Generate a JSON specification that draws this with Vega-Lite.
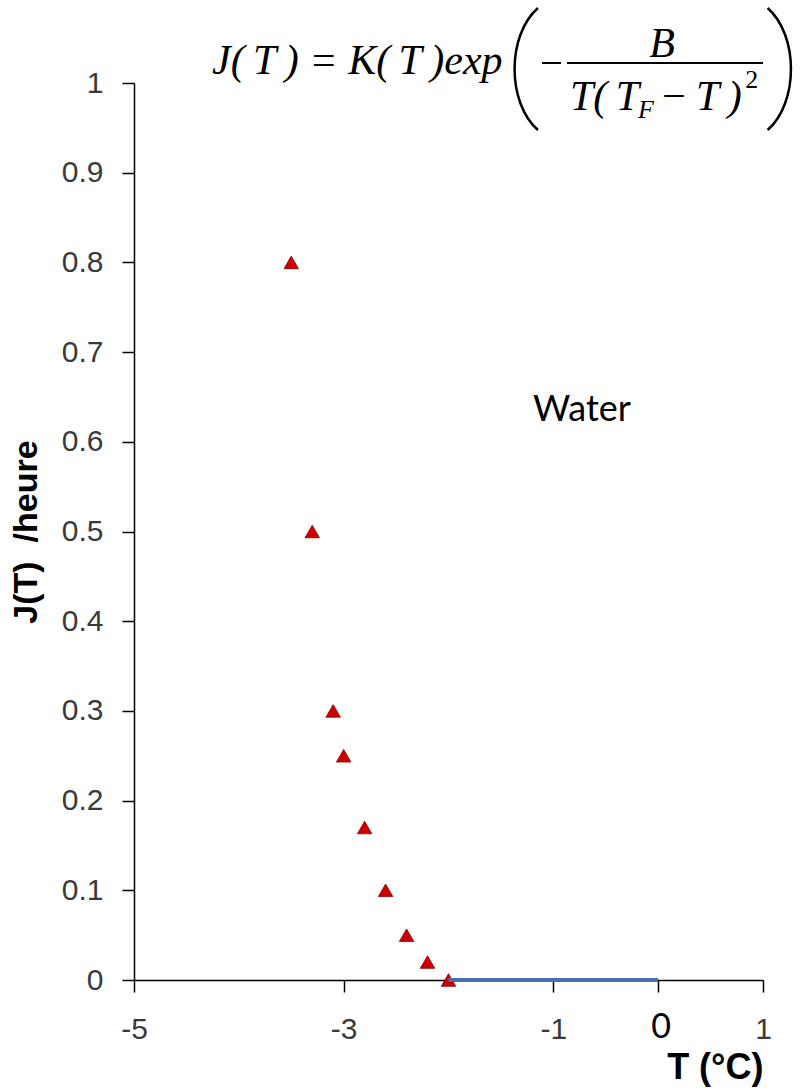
{
  "$schema": "https://vega.github.io/schema/vega-lite/v6.json",
  "width": 629,
  "height": 897,
  "autosize": {"type": "none"},
  "padding": {"left": 134, "top": 83, "right": 38, "bottom": 110},
  "background": "white",
  "config": {"view": {"stroke": null}},
  "data": {"values": [{}]},
  "datasets": {
    "measured": [
      {"T": -3.5, "J": 0.8},
      {"T": -3.3, "J": 0.5},
      {"T": -3.1, "J": 0.3},
      {"T": -3.0, "J": 0.25},
      {"T": -2.8, "J": 0.17},
      {"T": -2.6, "J": 0.1},
      {"T": -2.4, "J": 0.05},
      {"T": -2.2, "J": 0.02},
      {"T": -2.0, "J": 0.0}
    ],
    "model": [
      {"T": -2, "J": 0},
      {"T": 0, "J": 0}
    ]
  },
  "layer": [
    {
      "data": {"name": "measured"},
      "mark": {"type": "point", "shape": "triangle-up", "filled": true, "size": 210, "fill": "#cc0000", "stroke": "#8b0000", "strokeWidth": 0.8, "opacity": 1},
      "encoding": {
        "x": {
          "field": "T", "type": "quantitative",
          "scale": {"domain": [-5, 1], "nice": false, "zero": false},
          "axis": {
            "values": [-5, -3, -1, 0, 1],
            "labelExpr": "datum.value == 0 ? '' : toString(datum.value)",
            "title": "T (°C)",
            "titleFont": "Liberation Sans", "titleFontSize": 36, "titleFontWeight": "bold", "titleColor": "black",
            "titleAnchor": "end", "titlePadding": 6,
            "labelFont": "Liberation Sans", "labelFontSize": 30, "labelColor": "#3a3a3a", "labelPadding": 22,
            "labelFlush": false, "labelOverlap": false, "labelBound": false,
            "tickSize": 12, "tickWidth": 1.5, "tickColor": "black",
            "domainColor": "black", "domainWidth": 1.5, "grid": false
          }
        },
        "y": {
          "field": "J", "type": "quantitative",
          "scale": {"domain": [0, 1], "nice": false, "zero": false},
          "axis": {
            "values": [0, 0.1, 0.2, 0.3, 0.4, 0.5, 0.6, 0.7, 0.8, 0.9, 1],
            "format": "~g",
            "title": "J(T)\u00a0 /heure",
            "titleFont": "Liberation Sans", "titleFontSize": 34, "titleFontWeight": "bold", "titleColor": "black",
            "titlePadding": 18,
            "labelFont": "Liberation Sans", "labelFontSize": 30, "labelColor": "#3a3a3a", "labelPadding": 19,
            "labelOverlap": false, "labelBound": false, "labelFlush": false,
            "tickSize": 12, "tickWidth": 1.5, "tickColor": "black",
            "domainColor": "black", "domainWidth": 1.5, "grid": false
          }
        }
      }
    },
    {
      "data": {"name": "model"},
      "mark": {"type": "line", "color": "#4a6fb0", "strokeWidth": 4},
      "encoding": {
        "x": {"field": "T", "type": "quantitative"},
        "y": {"field": "J", "type": "quantitative"}
      }
    },
    {
      "mark": {"type": "text", "text": "J(\u2009T\u2009) = K(\u2009T\u2009)exp", "font": "Liberation Serif", "fontStyle": "italic", "fontSize": 42, "align": "left", "baseline": "alphabetic", "color": "black"},
      "encoding": {"x": {"datum": -4.256, "type": "quantitative"}, "y": {"datum": 1.01, "type": "quantitative"}}
    },
    {
      "mark": {"type": "point", "shape": "M0.17,-1 C-0.34,-0.55 -0.34,0.55 0.17,1", "filled": false, "size": 14884, "color": "black", "strokeWidth": 2.5, "opacity": 1},
      "encoding": {"x": {"datum": -1.246, "type": "quantitative"}, "y": {"datum": 1.0156, "type": "quantitative"}}
    },
    {
      "mark": {"type": "point", "shape": "M-0.17,-1 C0.34,-0.55 0.34,0.55 -0.17,1", "filled": false, "size": 14884, "color": "black", "strokeWidth": 2.5, "opacity": 1},
      "encoding": {"x": {"datum": 1.143, "type": "quantitative"}, "y": {"datum": 1.0156, "type": "quantitative"}}
    },
    {
      "mark": {"type": "rule", "color": "black", "strokeWidth": 2},
      "encoding": {"x": {"datum": -1.108, "type": "quantitative"}, "x2": {"datum": -0.927}, "y": {"datum": 1.0223, "type": "quantitative"}}
    },
    {
      "mark": {"type": "rule", "color": "black", "strokeWidth": 2},
      "encoding": {"x": {"datum": -0.869, "type": "quantitative"}, "x2": {"datum": 1.0}, "y": {"datum": 1.0223, "type": "quantitative"}}
    },
    {
      "mark": {"type": "text", "text": "B", "font": "Liberation Serif", "fontStyle": "italic", "fontSize": 42, "align": "center", "baseline": "alphabetic", "color": "black"},
      "encoding": {"x": {"datum": 0.037, "type": "quantitative"}, "y": {"datum": 1.029, "type": "quantitative"}}
    },
    {
      "mark": {"type": "text", "text": "T(\u2009T", "font": "Liberation Serif", "fontStyle": "italic", "fontSize": 42, "align": "left", "baseline": "alphabetic", "color": "black"},
      "encoding": {"x": {"datum": -0.841, "type": "quantitative"}, "y": {"datum": 0.9699, "type": "quantitative"}}
    },
    {
      "mark": {"type": "text", "text": "F", "font": "Liberation Serif", "fontStyle": "italic", "fontSize": 26, "align": "left", "baseline": "alphabetic", "color": "black"},
      "encoding": {"x": {"datum": -0.193, "type": "quantitative"}, "y": {"datum": 0.961, "type": "quantitative"}}
    },
    {
      "mark": {"type": "text", "text": "\u2212\u2009T\u2009)", "font": "Liberation Serif", "fontStyle": "italic", "fontSize": 42, "align": "left", "baseline": "alphabetic", "color": "black"},
      "encoding": {"x": {"datum": 0.01, "type": "quantitative"}, "y": {"datum": 0.9699, "type": "quantitative"}}
    },
    {
      "mark": {"type": "text", "text": "2", "font": "Liberation Serif", "fontSize": 26, "align": "left", "baseline": "alphabetic", "color": "black"},
      "encoding": {"x": {"datum": 0.83, "type": "quantitative"}, "y": {"datum": 0.9944, "type": "quantitative"}}
    },
    {
      "mark": {"type": "text", "text": "Water", "font": "Lato", "fontSize": 36, "align": "left", "baseline": "alphabetic", "color": "black"},
      "encoding": {"x": {"datum": -1.194, "type": "quantitative"}, "y": {"datum": 0.623, "type": "quantitative"}}
    },
    {
      "mark": {"type": "text", "text": "0", "font": "Lato", "fontSize": 34, "align": "center", "baseline": "alphabetic", "color": "black"},
      "encoding": {"x": {"datum": 0.027, "type": "quantitative"}, "y": {"datum": -0.0647, "type": "quantitative"}}
    }
  ]
}
